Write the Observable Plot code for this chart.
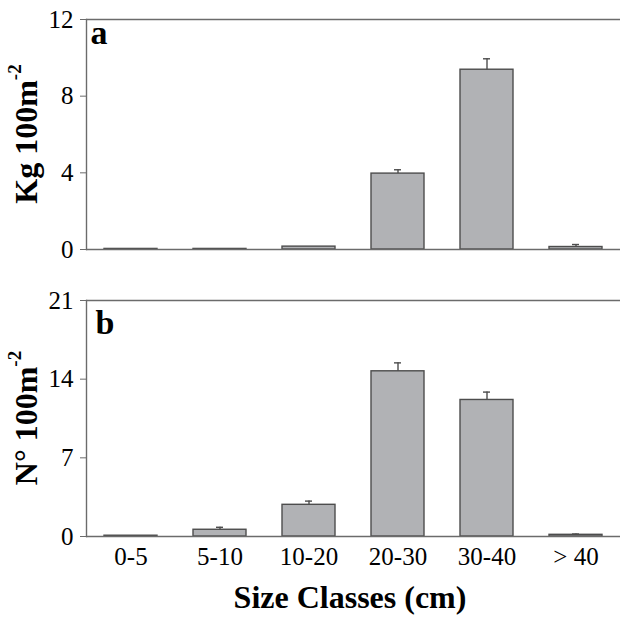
<!DOCTYPE html>
<html>
<head>
<meta charset="utf-8">
<script src="https://cdn.jsdelivr.net/npm/d3@7"></script>
<script src="https://cdn.jsdelivr.net/npm/@observablehq/plot@0.6"></script>
<style>
  html, body { margin: 0; padding: 0; background: #fff; }
  #chart { width: 620px; }
  #chart svg { display: block; }
</style>
</head>
<body>
<div id="chart"></div>
<script>
const categories = ["0-5", "5-10", "10-20", "20-30", "30-40", "> 40"];
const biomass = [0.03, 0.03, 0.15, 3.96, 9.38, 0.13];
const biomassErr = [0, 0, 0, 0.2, 0.57, 0.13];
const density = [0.07, 0.6, 2.82, 14.7, 12.15, 0.15];
const densityErr = [0, 0.22, 0.33, 0.75, 0.7, 0.07];
const biomassTicks = [0, 4, 8, 12];
const densityTicks = [0, 7, 14, 21];

const FONT = "'Liberation Serif', 'Times New Roman', serif";
const BAR_FILL = "#b1b2b5";
const BAR_STROKE = "#4d4d4d";
const AXIS = "#6b6b6b";

function panel({values, errs, ticks, max, height, marginTop, marginBottom, letter, letterDx, letterDy, showX}) {
  const data = categories.map((c, i) => ({cat: c, val: values[i], err: errs[i]}));
  const withErr = data.filter(d => d.err > 0);
  const svg = Plot.plot({
    width: 620,
    height,
    marginLeft: 86,
    marginRight: 0,
    marginTop,
    marginBottom,
    style: {fontFamily: FONT, fontSize: "25px", color: "black", background: "white"},
    x: {domain: categories, paddingInner: 0.4, paddingOuter: 0.18, axis: null},
    y: {domain: [0, max], axis: null},
    marks: [
      Plot.barY(data, {x: "cat", y: "val", fill: BAR_FILL, stroke: BAR_STROKE, strokeWidth: 1.4}),
      Plot.ruleX(withErr, {x: "cat", y1: "val", y2: d => d.val + d.err, stroke: BAR_STROKE, strokeWidth: 1.4}),
      Plot.tickY(withErr, {x: "cat", y: d => d.val + d.err, stroke: BAR_STROKE, strokeWidth: 1.4, insetLeft: 23, insetRight: 23}),
      Plot.ruleY([0, max], {stroke: AXIS, strokeWidth: 1.4}),
      Plot.frame({anchor: "left", stroke: AXIS, strokeWidth: 1.4}),
      Plot.axisY({ticks, tickSize: 6, tickPadding: 7, stroke: AXIS, fill: "black", label: null, fontSize: 25}),
      ...(showX ? [Plot.axisX({tickSize: 0, tickPadding: 11, fill: "black", label: null, fontSize: 25})] : []),
      Plot.text([letter], {frameAnchor: "top-left", dx: letterDx, dy: letterDy, fontWeight: "bold", fontSize: 34, fill: "black"})
    ]
  });
  return svg;
}

function addYLabel(svg, main, cy) {
  const t = d3.select(svg).append("text")
    .attr("transform", `translate(37,${cy}) rotate(-90)`)
    .attr("text-anchor", "middle")
    .attr("font-family", FONT)
    .attr("font-weight", "bold")
    .attr("font-size", 32)
    .attr("fill", "black");
  t.append("tspan").text(main);
  t.append("tspan").attr("font-size", 19).attr("dy", "-0.85em").text("-2");
}

const a = panel({values: biomass, errs: biomassErr, ticks: biomassTicks, max: 12, height: 270, marginTop: 19, marginBottom: 21, letter: "a", letterDx: 4, letterDy: 0, showX: false});
addYLabel(a, "Kg 100m", 134);

const b = panel({values: density, errs: densityErr, ticks: densityTicks, max: 21, height: 347, marginTop: 30, marginBottom: 81, letter: "b", letterDx: 9, letterDy: 9, showX: true});
addYLabel(b, "N° 100m", 148);
d3.select(b).append("text")
  .attr("x", 350).attr("y", 338)
  .attr("text-anchor", "middle")
  .attr("font-family", FONT)
  .attr("font-weight", "bold")
  .attr("font-size", 32)
  .attr("fill", "black")
  .text("Size Classes (cm)");

document.getElementById("chart").append(a, b);
</script>
</body>
</html>
